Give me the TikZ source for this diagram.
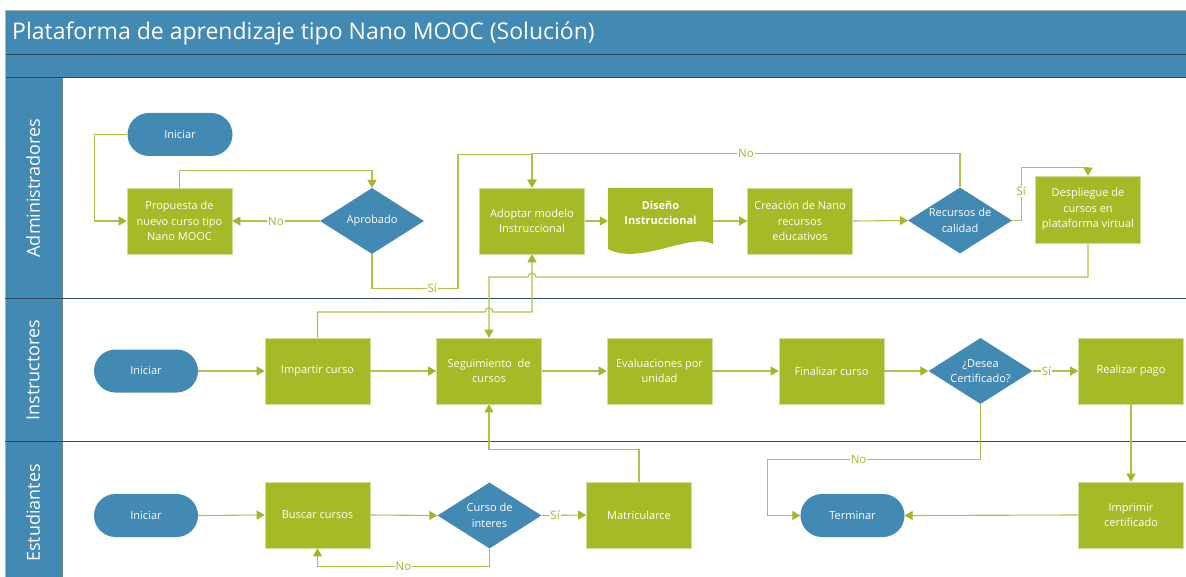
\documentclass[tikz,border=0pt]{standalone}
\usepackage{fontspec}
\setmainfont{Open Sans}
\usetikzlibrary{arrows.meta,shapes.geometric,calc}
\definecolor{laneblue}{HTML}{4289B4}
\definecolor{darkline}{HTML}{2C4A5E}
\definecolor{boxgreen}{HTML}{A6B927}
\definecolor{boxedge}{HTML}{D3DD9B}
\definecolor{linegreen}{HTML}{B0C14A}
\definecolor{tipgreen}{HTML}{A3B628}
\newcommand\bxfont{\fontsize{11}{15.5}\selectfont}
\newcommand\lbfont{\fontsize{11.5}{13}\selectfont}
\newcommand\lnfont{\fontsize{18}{22}\selectfont}
\newcommand\ttfont{\fontsize{23}{27}\selectfont}
\tikzset{
  proc/.style={rectangle, fill=boxgreen, draw=boxedge, line width=0.6pt,
    minimum width=105pt, minimum height=66pt, text=white, align=center,
    font=\bxfont, inner sep=1pt},
  termbox/.style={rectangle, rounded corners=21.5pt, fill=laneblue,
    minimum width=104pt, minimum height=43pt, text=white, font=\bxfont},
  dec/.style={diamond, fill=laneblue, minimum width=104pt,
    minimum height=66pt, inner sep=0pt},
  dlbl/.style={text=white, align=center, font=\bxfont},
  anchorbox/.style={rectangle, minimum width=105pt, minimum height=66pt,
    inner sep=0pt},
  conn/.style={draw=linegreen, line width=1.1pt,
    -{Triangle[length=8pt,width=9pt,color=tipgreen]}},
  lbl/.style={fill=white, text=tipgreen, font=\lbfont, inner sep=1pt},
  lanelabel/.style={rotate=90, text=white, font=\lnfont},
}
\begin{document}
\begin{tikzpicture}[x=1pt,y=-1pt]
\useasboundingbox (0,0) rectangle (1186,577);
\fill[white] (0,0) rectangle (1186,577);
% header bands
\fill[laneblue] (5,10) rectangle (1186,78);
\fill[laneblue] (5,78) rectangle (62,577);
\draw[gray!60, line width=0.8pt] (5,10.5) -- (1186,10.5);
\draw[darkline, line width=1pt] (5,55) -- (1186,55);
\draw[darkline, line width=1pt] (5,78) -- (1186,78);
\draw[darkline!70, line width=0.8pt] (62,78) -- (62,577);
\draw[gray!60, line width=0.8pt] (5,10) -- (5,577);
\draw[darkline, line width=1.2pt] (5,298.5) -- (1186,298.5);
\draw[darkline, line width=1.2pt] (5,441.5) -- (1186,441.5);
\node[anchor=west, text=white, font=\ttfont, inner sep=0pt] (title) at (12,33)
  {Plataforma de aprendizaje tipo Nano MOOC (Solución)};
\node[lanelabel] (ladm) at (33,188) {Administradores};
\node[lanelabel] (lins) at (33,370) {Instructores};
\node[lanelabel] (lest) at (33,513) {Estudiantes};

% Administradores
\node[termbox, minimum width=105pt] (ini1) at (180,134.5) {Iniciar};
\node[proc] (prop) at (179.5,221) {Propuesta de\\nuevo curso tipo\\Nano MOOC};
\node[dec, label={[dlbl]center:Aprobado}] (apr) at (372,221) {};
\node[proc] (adop) at (532,221) {Adoptar modelo\\Instruccional};
\fill[boxgreen] (608,188) -- (713,188) -- (713,244)
  .. controls (690,232) and (640,266) .. (608,249) -- cycle;
\node[anchorbox] (dis) at (660.5,221) {};
\node[text=white, align=center, font=\bxfont\bfseries] (distxt) at (660.5,213)
  {Diseño\\Instruccional};
\node[proc] (crea) at (800,221) {Creación de Nano\\recursos\\educativos};
\node[dec, label={[dlbl]center:{Recursos de\\calidad}}] (rec) at (960,220.5) {};
\node[proc, minimum height=67pt] (desp) at (1088,209.5)
  {Despliegue de\\cursos en\\plataforma virtual};

% Instructores
\node[termbox] (ini2) at (146,371) {Iniciar};
\node[proc] (imp) at (317.5,371) {Impartir curso};
\node[proc] (seg) at (489,371) {Seguimiento\ \ de\\cursos};
\node[proc] (eva) at (659.5,371) {Evaluaciones por\\unidad};
\node[proc] (fin) at (831.5,371) {Finalizar curso};
\node[dec, label={[dlbl]center:{¿Desea\\Certificado?}}] (des) at (980.5,371) {};
\node[proc] (real) at (1131,371) {Realizar pago};

% Estudiantes
\node[termbox] (ini3) at (146,515.5) {Iniciar};
\node[proc] (bus) at (317.5,515) {Buscar cursos};
\node[dec, label={[dlbl]center:{Curso de\\interes}}] (cur) at (489.5,515.5) {};
\node[proc] (mat) at (639,515) {Matricularce};
\node[termbox] (term) at (852.5,515.5) {Terminar};
\node[proc] (impr) at (1131,515) {Imprimir\\certificado};

% connectors - Administradores
\draw[conn] (ini1.west) -- ++(-33,0) |- (prop.west);
\draw[conn] (prop.north) -- ++(0,-17) -| (apr.north);
\draw[conn] (apr.west) -- node[lbl]{No} (prop.east);
\draw[conn] (apr.south) -- ++(0,34) -- node[lbl,pos=0.7]{Sí} ++(86,0)
  -- ++(0,-134) -| (adop.north);
\draw[conn] (rec.north) -- ++(0,-34) -| node[lbl,pos=0.25]{No} (adop.north);
\draw[conn] (adop.east) -- (dis.west);
\draw[conn] (dis.east) -- (crea.west);
\draw[conn] (crea.east) -- (rec.west);
\draw[conn] (rec.east) -- ++(9,0) -- node[lbl,pos=0.55]{Sí} ++(0,-53) -| (desp.north);
\draw[conn] (desp.south) -- (1088,277) -- (536,277)
  arc[start angle=0,end angle=180,radius=4pt] -- (489,277) -- (seg.north);
\draw[conn] (imp.north) -- (317.5,312) -- (485,312)
  arc[start angle=180,end angle=0,radius=4pt] -- (532,312) -- (adop.south);

% connectors - Instructores
\draw[conn] (ini2.east) -- (imp.west);
\draw[conn] (imp.east) -- (seg.west);
\draw[conn] (seg.east) -- (eva.west);
\draw[conn] (eva.east) -- (fin.west);
\draw[conn] (fin.east) -- (des.west);
\draw[conn] (des.east) -- node[lbl,pos=0.3]{Sí} (real.west);
\draw[conn] (des.south) -- ++(0,55) -| node[lbl,pos=0.286]{No} ($(term.west)+(-33,0)$)
  -- (term.west);
\draw[conn] (real.south) -- (impr.north);
\draw[conn] (impr.west) -- (term.east);
\draw[conn] (mat.north) -- ++(0,-32) -| (seg.south);

% connectors - Estudiantes
\draw[conn] (ini3.east) -- (bus.west);
\draw[conn] (bus.east) -- (cur.west);
\draw[conn] (cur.east) -- node[lbl,pos=0.3]{Sí} (mat.west);
\draw[conn] (cur.south) -- ++(0,18) -| node[lbl,pos=0.25]{No} (bus.south);
\end{tikzpicture}
\end{document}
